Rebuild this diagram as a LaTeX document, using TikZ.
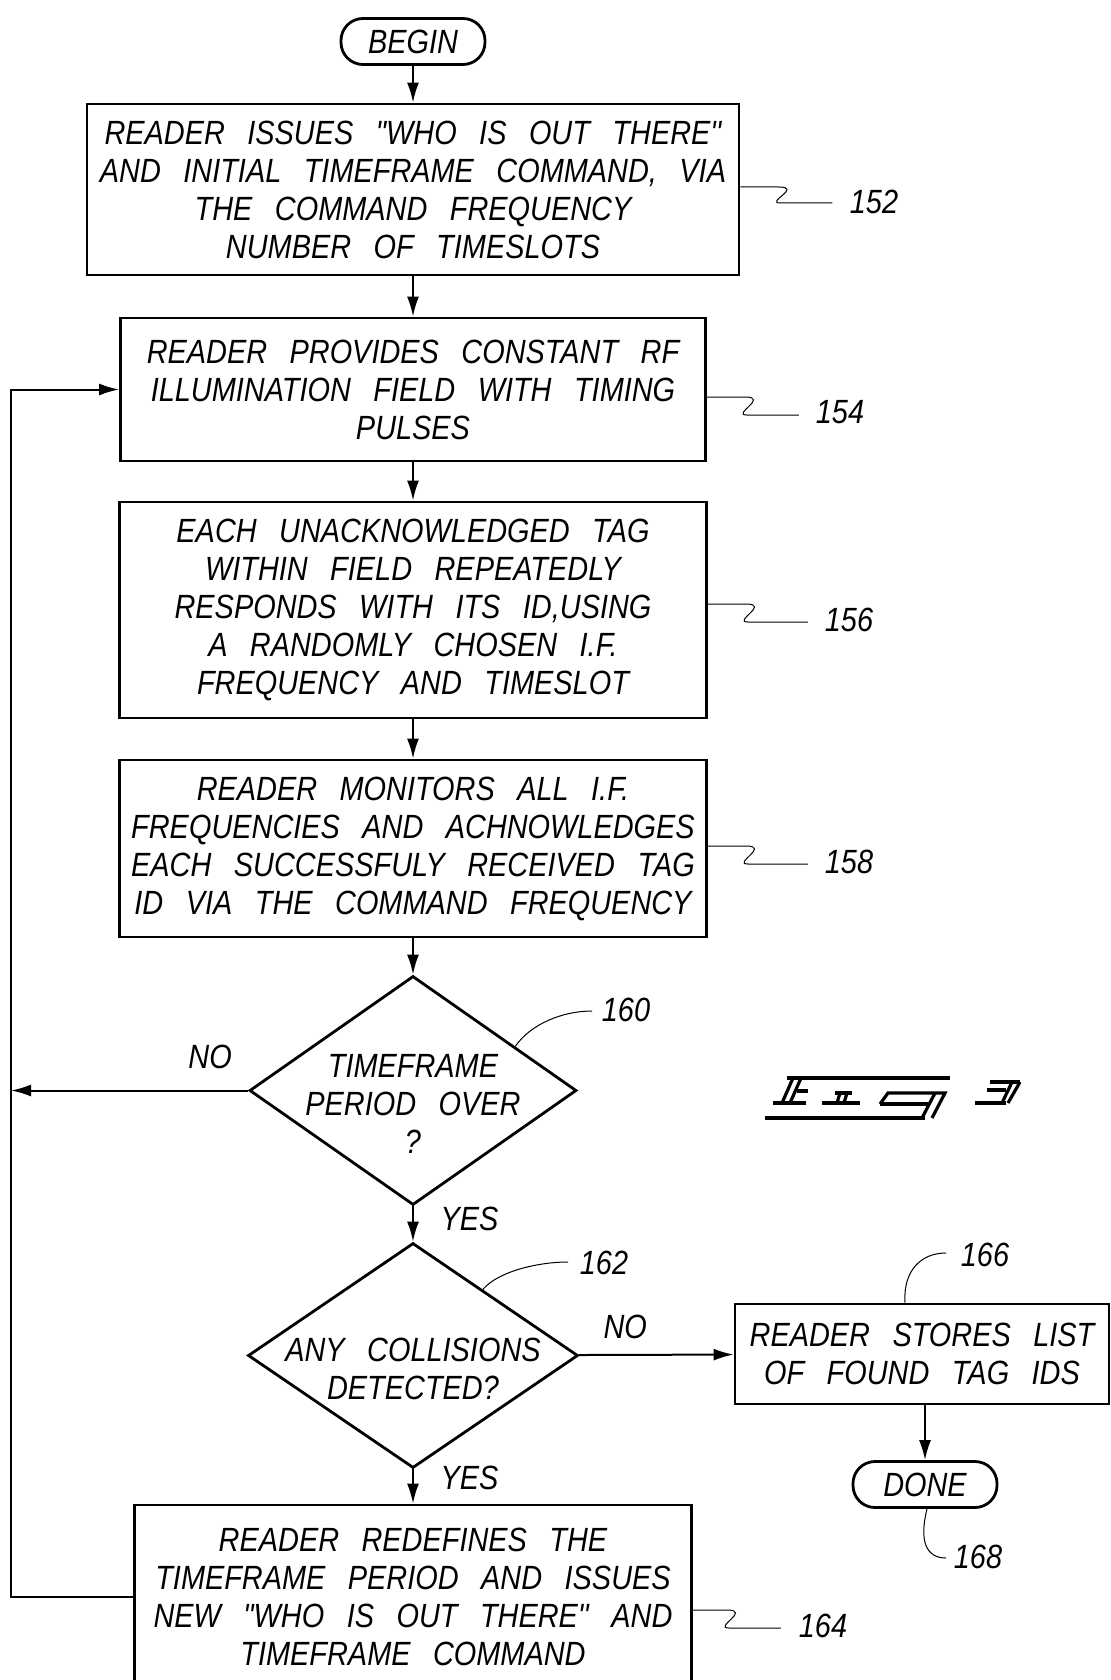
\documentclass[tikz,border=0pt]{standalone}
\usepackage{fontspec}
\newfontfamily\patfont[FakeStretch=0.86,WordSpace=2.8]{Liberation Sans}
\usepackage{tikz}
\usetikzlibrary{arrows.meta,shapes.geometric,calc}

\begin{document}
\begin{tikzpicture}[
    x=0.5pt, y=-0.5pt,
    >={Latex[length=10pt,width=6pt]},
    font=\patfont\itshape\fontsize{16.8pt}{19pt}\selectfont,
    stepbox/.style={
		rectangle,
		draw=black,
		line width=1.4pt,
		align=center,
		inner sep=0pt
	},
    terminal/.style={
		stepbox,
		rounded corners=11pt,
		minimum width=72pt,
		minimum height=23pt
	},
    decision/.style={
		diamond,
		draw=black,
		line width=1.4pt,
		inner sep=0pt
	},
    dtext/.style={
		align=center,
		inner sep=0pt
	},
    flow/.style={
		line width=1pt
	},
    leader/.style={
		line width=0.5pt
	},
    refnum/.style={
		inner sep=0pt
	}
  ]
  \path [use as bounding box, clip] (0,0) rectangle (1111,1680);

    % We start by placing the blocks
  \node [terminal] (begin) at (413,41.5) {BEGIN};

  \node [stepbox, minimum width=326pt, minimum height=85.5pt] (p152) at (413,189.5)
  {READER ISSUES "WHO IS OUT THERE''\\
   AND INITIAL TIMEFRAME COMMAND, VIA\\
   THE COMMAND FREQUENCY\\
   NUMBER OF TIMESLOTS};

  \node [stepbox, minimum width=292.5pt, minimum height=71.5pt] (p154) at (413,389.5)
  {READER PROVIDES CONSTANT RF\\
   ILLUMINATION FIELD WITH TIMING\\
   PULSES};

  \node [stepbox, minimum width=293.5pt, minimum height=108pt] (p156) at (413,610)
  {EACH UNACKNOWLEDGED TAG\\
   WITHIN FIELD REPEATEDLY\\
   RESPONDS WITH ITS ID,USING\\
   A RANDOMLY CHOSEN I.F.\\
   FREQUENCY AND TIMESLOT};

  \node [stepbox, minimum width=293.5pt, minimum height=88.5pt] (p158) at (413,848.5)
  {READER MONITORS ALL I.F.\\
   FREQUENCIES AND ACHNOWLEDGES\\
   EACH SUCCESSFULY RECEIVED TAG\\
   ID VIA THE COMMAND FREQUENCY};

  \node [decision, minimum width=163.5pt, minimum height=114.5pt] (d160) at (413,1090.5) {};
  \node [dtext] (t160) at (413,1104) {TIMEFRAME\\ PERIOD OVER\\ ?};

  \node [decision, minimum width=165pt, minimum height=112.5pt] (d162) at (413,1355.5) {};
  \node [dtext] (t162) at (413,1369) {ANY COLLISIONS\\ DETECTED?};

  \node [stepbox, minimum width=278.5pt, minimum height=92pt] (p164) at (413,1597)
  {READER REDEFINES THE\\
   TIMEFRAME PERIOD AND ISSUES\\
   NEW "WHO IS OUT THERE'' AND\\
   TIMEFRAME COMMAND};

  \node [stepbox, minimum width=187pt, minimum height=50pt] (p166) at (922,1354)
  {READER STORES LIST\\
   OF FOUND TAG IDS};

  \node [terminal] (done) at (925,1484.5) {DONE};

  \coordinate (cLoop) at (11,1597);

  % connectors
  \draw [flow,->] (begin) -- (p152);
  \draw [flow,->] (p152) -- (p154);
  \draw [flow,->] (p154) -- (p156);
  \draw [flow,->] (p156) -- (p158);
  \draw [flow,->] (p158) -- (d160);
  \draw [flow,->] (d160) -- node [pos=0.35, right=10pt] (y160) {YES} (d162);
  \draw [flow,->] (d162) -- node [pos=0.25, right=10pt] (y162) {YES} (p164);
  \draw [flow,->] (d162) -- node [pos=0.3, above=4pt] (n162) {NO} (p166);
  \draw [flow,->] (p166.south -| done) -- (done);
  \draw [flow,->] (d160.west) -- node [pos=0.16, above=7pt] (n160) {NO} (d160.west -| cLoop);
  \draw [flow,->] (p164.west) -- (cLoop) |- (p154.west);

  % reference numbers
  \draw [leader] (p152.east |- 0,187) -- ++(38,0) .. controls +(25,0) and +(-16,0) .. ++(2,16) -- ++(52,0);
  \node [refnum] (r152) at (874,202) {152};
  \draw [leader] (p154.east |- 0,397) -- ++(38,0) .. controls +(25,0) and +(-16,0) .. ++(2,18) -- ++(52,0);
  \node [refnum] (r154) at (840,412) {154};
  \draw [leader] (p156.east |- 0,604) -- ++(38,0) .. controls +(25,0) and +(-16,0) .. ++(2,18) -- ++(60,0);
  \node [refnum] (r156) at (849,620) {156};
  \draw [leader] (p158.east |- 0,846) -- ++(38,0) .. controls +(25,0) and +(-16,0) .. ++(2,18) -- ++(60,0);
  \node [refnum] (r158) at (849,862) {158};
  \draw [leader] (p164.east |- 0,1610) -- ++(34,0) .. controls +(25,0) and +(-16,0) .. ++(2,18) -- ++(52,0);
  \node [refnum] (r164) at (823,1626) {164};

  \draw [leader] ($(d160.north)!0.62!(d160.east)$) .. controls +(15,-22) and +(-30,0) .. (592,1011);
  \node [refnum] (r160) at (626,1010) {160};
  \draw [leader] ($(d162.north)!0.42!(d162.east)$) .. controls +(15,-18) and +(-30,0) .. (568,1262);
  \node [refnum] (r162) at (604,1263) {162};
  \draw [leader] (p166.north -| 905,0) .. controls +(-2,-32) and +(-25,0) .. (946,1253);
  \node [refnum] (r166) at (985,1255) {166};
  \draw [leader] (done.south -| 927,0) .. controls +(-8,32) and +(-20,0) .. (946,1558);
  \node [refnum] (r168) at (978,1557) {168};

  % figure mark
  \begin{scope}[line width=1.6pt]
    \draw (787,1078) -- (950,1078);
    \draw (765,1118) -- (925,1118);
    \draw (793,1078) -- (782,1103);
    \draw (801,1078) -- (790,1103);
    \draw (797,1091) -- (808,1091);
    \draw (773,1103) -- (806,1103);
    \draw (835,1093) -- (852,1093);
    \draw (840,1093) -- (837,1103);
    \draw (847,1093) -- (844,1103);
    \draw (822,1103) -- (860,1103);
    \draw (880,1104) -- (888,1093) -- (945,1093) -- (932,1118);
    \draw (880,1104) -- (929,1104);
    \draw (935,1093) -- (922,1118);
    \draw (990,1082) -- (1020,1082);
    \draw (987,1090) -- (1006,1090);
    \draw (975,1103) -- (1006,1103);
    \draw (1012,1082) -- (1002,1103);
    \draw (1020,1082) -- (1008,1103);
  \end{scope}
\end{tikzpicture}
\end{document}
